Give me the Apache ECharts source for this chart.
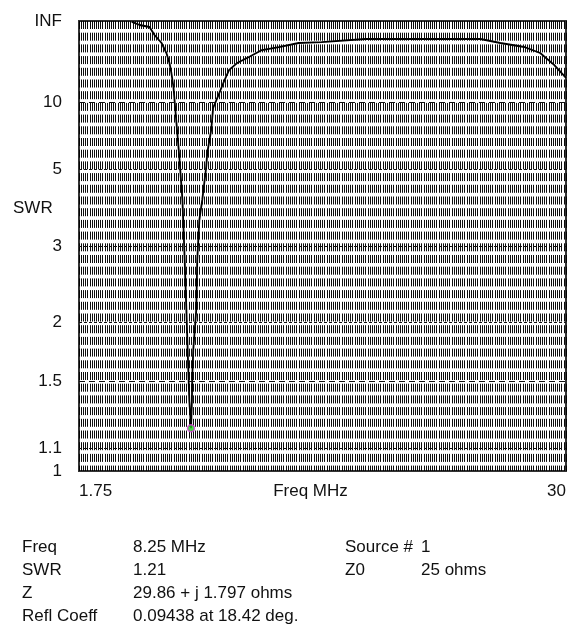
<!DOCTYPE html>
<html>
<head>
<meta charset="utf-8">
<script src="https://cdn.jsdelivr.net/npm/echarts@6/dist/echarts.min.js"></script>
<style>
  html, body { margin: 0; padding: 0; background: #fff; }
  #chart { width: 569px; height: 635px; }
</style>
</head>
<body>
<div id="chart"></div>
<script>
// SWR sweep, Z0 = 25 ohms
var freqMHz = [4.81, 5.27, 5.84, 6.13, 6.54, 6.82, 7.00, 7.11, 7.23, 7.34, 7.57, 7.75, 7.86, 7.98, 8.09, 8.15, 8.25,
  8.30, 8.32, 8.38, 8.55, 8.61, 8.73, 8.90, 9.13, 9.19, 9.42, 9.53, 9.82, 10.17, 10.46, 10.92, 11.61, 12.36, 13.34,
  14.49, 15.82, 18.35, 25.04, 26.19, 27.58, 28.50, 29.31, 30.0];
var swr = [999, 224, 149, 63.3, 39.9, 27.1, 20.4, 16.3, 12.6, 9.11, 5.62, 4.03, 2.93, 2.11, 1.58, 1.37, 1.21,
  1.37, 1.53, 1.74, 2.11, 2.77, 3.52, 4.03, 5.17, 5.82, 7.26, 9.35, 11.0, 14.0, 17.4, 20.4, 24.0, 30.0, 33.6,
  39.9, 41.8, 49, 49, 39.9, 33.6, 27.1, 19.5, 14.8];

// cursor point
var cursorFreq = 8.25;
var cursorSwr = 1.21;

// SWR tick labels (INF = top of scale)
var swrTicks = ['INF', 10, 5, 3, 2, 1.5, 1.1, 1];
var dashedTicks = [10, 1.5];

var xMin = 1.75, xMax = 30;

var info = [
  ['Freq', '8.25 MHz', 'Source #', '1'],
  ['SWR', '1.21', 'Z0', '25 ohms'],
  ['Z', '29.86 + j 1.797 ohms', '', ''],
  ['Refl Coeff', '0.09438 at 18.42 deg.', '', '']
];

// plot on reflection coefficient scale
function rho(s) {
  if (s === 'INF') return 1;
  return (s - 1) / (s + 1);
}

var FONT = 'Liberation Sans';
var FS = 17;

var lineData = freqMHz.map(function (f, i) { return [f, rho(swr[i])]; });

var markData = swrTicks.map(function (t) {
  var edge = (t === 'INF' || t === 1);
  var dashed = dashedTicks.indexOf(t) >= 0;
  return {
    yAxis: rho(t),
    label: { formatter: String(t) },
    lineStyle: {
      color: edge ? 'transparent' : '#111',
      type: dashed ? [6, 4] : [3, 2],
      width: 1
    }
  };
});

var graphics = [{
  type: 'text', left: 13, top: 200,
  style: { text: 'SWR', font: FS + 'px "' + FONT + '"', fill: '#111' }
}];
var colX = [22, 133, 345, 421];
info.forEach(function (row, r) {
  row.forEach(function (txt, c) {
    if (!txt) return;
    graphics.push({
      type: 'text', left: colX[c], top: 539 + r * 23,
      style: { text: txt, font: FS + 'px "' + FONT + '"', fill: '#111' }
    });
  });
});

var myChart = echarts.init(document.getElementById('chart'));

option = {
  animation: false,
  backgroundColor: '#fff',
  grid: {
    left: 79, top: 21, right: 0, bottom: 164,
    show: true, borderColor: '#333', borderWidth: 2
  },
  xAxis: {
    type: 'value', min: xMin, max: xMax, interval: 0.125,
    name: 'Freq MHz', nameLocation: 'middle', nameGap: 12,
    nameMoveOverlap: false,
    nameTextStyle: { fontFamily: FONT, fontSize: FS, color: '#111', padding: [0, 24, 0, 0], verticalAlign: 'top' },
    axisLine: { show: false },
    axisTick: { show: false },
    axisLabel: {
      margin: 12, fontFamily: FONT, fontSize: FS, color: '#111',
      alignMinLabel: 'left', alignMaxLabel: 'right',
      formatter: function (v) {
        if (Math.abs(v - xMin) < 1e-6) return '1.75';
        if (Math.abs(v - xMax) < 1e-6) return '30';
        return '';
      }
    },
    splitLine: { show: true, lineStyle: { color: '#000', width: 1, type: [8, 3.7], opacity: 0.95 } }
  },
  yAxis: {
    type: 'value', min: 0, max: 1,
    axisLine: { show: false }, axisTick: { show: false },
    axisLabel: { show: false }, splitLine: { show: false }
  },
  graphic: graphics,
  series: [{
    type: 'line',
    data: lineData,
    symbol: 'none',
    lineStyle: { color: '#000', width: 1.8 },
    markLine: {
      silent: true,
      symbol: 'none',
      label: {
        position: 'start', distance: 17,
        fontFamily: FONT, fontSize: FS, color: '#111'
      },
      data: markData
    },
    z: 3
  }, {
    type: 'scatter',
    data: [[cursorFreq, rho(cursorSwr)]],
    symbol: 'circle', symbolSize: 7,
    itemStyle: { color: '#22cc22', borderColor: '#e040e0', borderWidth: 1.5 },
    z: 4
  }]
};

myChart.setOption(option);
</script>
</body>
</html>
